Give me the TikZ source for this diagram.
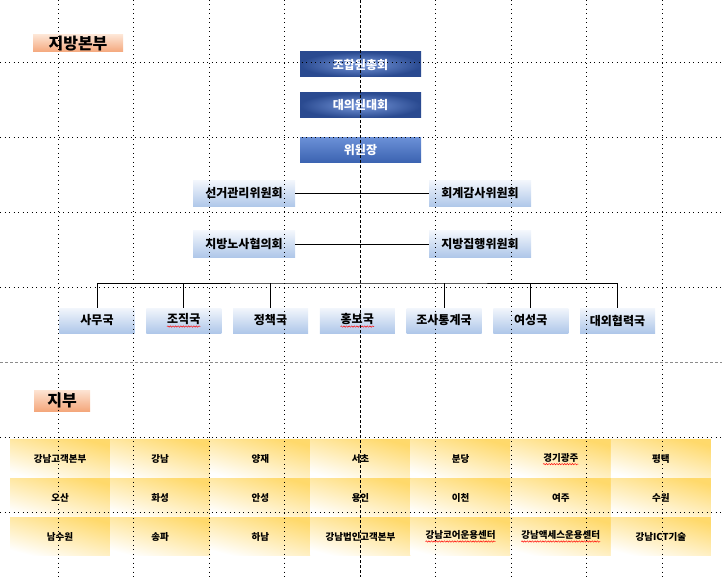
\documentclass[tikz,border=0pt]{standalone}
\usepackage{fontspec}
\setmainfont{Noto Sans CJK KR}
\usepackage{xcolor}
\usepackage{tikz}
\usetikzlibrary{decorations.pathmorphing}

\definecolor{bluedark}{HTML}{2A4A90}
\definecolor{bluelight}{HTML}{7899DC}
\definecolor{chairtop}{HTML}{6A8FD6}
\definecolor{chairbottom}{HTML}{3A62B0}
\definecolor{paleblue}{HTML}{F2F6FC}
\definecolor{skyblue}{HTML}{AFC7E9}
\definecolor{peachlight}{HTML}{FDE4D3}
\definecolor{peach}{HTML}{F4A77C}
\definecolor{gold}{HTML}{FFD96B}

\tikzstyle{headbox} = [rectangle, inner sep=0pt, minimum width=121pt, minimum height=25pt, text=white, font=\bfseries\fontsize{12}{12}\selectfont, inner color=bluelight, outer color=bluedark]
\tikzstyle{chairbox} = [headbox, top color=chairtop, bottom color=chairbottom]
\tikzstyle{commbox} = [rectangle, inner sep=0pt, minimum width=102pt, minimum height=26pt, top color=paleblue, bottom color=skyblue, font=\bfseries\fontsize{12}{12}\selectfont]
\tikzstyle{deptbox} = [commbox, minimum width=75pt, minimum height=25pt]
\tikzstyle{cellbox} = [rectangle, inner sep=0pt, minimum width=100.14pt, minimum height=38.67pt, top color=gold, bottom color=white, shading angle=-15, font=\bfseries\fontsize{9.5}{10}\selectfont]
\tikzstyle{tagbox} = [rectangle, inner sep=0pt, top color=peachlight, bottom color=peach, font=\bfseries\fontsize{16}{16}\selectfont]
\tikzstyle{conn} = [black, line width=0.8pt]
\tikzstyle{gridline} = [black, line width=0.7pt, dash pattern=on 0.7pt off 3.8pt]
\tikzstyle{midline} = [black, line width=0.6pt, dash pattern=on 3pt off 2pt]
\tikzstyle{pageline} = [black!45, line width=0.6pt, dash pattern=on 3pt off 2pt]

% sottolineatura rossa ondulata
\newcommand{\typo}[1]{\tikz[baseline=(w.base)]{\node[rectangle, draw=none, inner sep=0pt, minimum width=0pt, minimum height=0pt] (w) {#1}; \draw[red, line width=0.45pt, decorate, decoration={snake, amplitude=0.7pt, segment length=2.6pt}] ([yshift=-1.5pt]w.south west) -- ([yshift=-1.5pt]w.south east);}}

\begin{document}
\begin{tikzpicture}[x=1pt, y=-1pt]
	\useasboundingbox (0,0) rectangle (722,577);
	% 지방본부
	\node [tagbox, minimum width=90pt, minimum height=17pt] (hqtag) at (78,43.5) {지방본부};
	\node [headbox] (assembly) at (360.5,64.5) {조합원총회};
	\node [headbox] (delegates) at (360.5,105.5) {대의원대회};
	\node [chairbox] (chair) at (360.5,150.5) {위원장};
	\node [commbox] (election) at (244,193.5) {선거관리위원회};
	\node [commbox] (audit) at (480,193.5) {회계감사위원회};
	\node [commbox] (labor) at (244,244) {지방노사협의회};
	\node [commbox] (exec) at (480,244) {지방집행위원회};
	\draw [conn] (election) -- (audit);
	\draw [conn] (labor) -- (exec);
	\foreach \name [count=\i] in {사무국,\typo{조직국},정책국,\typo{홍보국},조사통계국,여성국,대외협력국}
		\node [deptbox] (dept\i) at ({97+(\i-1)*86.75},320.5) {\name};
	\coordinate (bus) at (360,283);
	\draw [conn] (dept1.north) |- (bus) -| (dept7.north);
	\foreach \i in {2,3,5,6}
		\draw [conn] (dept\i.north) -- (dept\i.north |- bus);
	% 지부
	\node [tagbox, minimum width=56pt, minimum height=21pt] (branchtag) at (62,400.5) {지부};
	\foreach \row [count=\r] in {{강남고객본부,강남,양재,서초,분당,\typo{경기광주},평택},{오산,화성,안성,용인,이천,여주,수원},{남수원,송파,하남,강남법인고객본부,\typo{강남코어운용센터},\typo{강남액세스운용센터},강남ICT기술}}
		\foreach \cell [count=\c] in \row
			\node [cellbox] (cell\r\c) at ({60.07+(\c-1)*100.14},{459.3+(\r-1)*38.67}) {\cell};
	% griglia
	\foreach \x in {58,133.5,209,284.5,435.5,511,586.5,662}
		\draw [gridline] (\x,0) -- (\x,577);
	\foreach \y in {62,137,212,287,437,512}
		\draw [gridline] (0,\y) -- (722,\y);
	\draw [midline] (360,0) -- (360,577);
	\draw [pageline] (0,362.5) -- (722,362.5);
\end{tikzpicture}
\end{document}
